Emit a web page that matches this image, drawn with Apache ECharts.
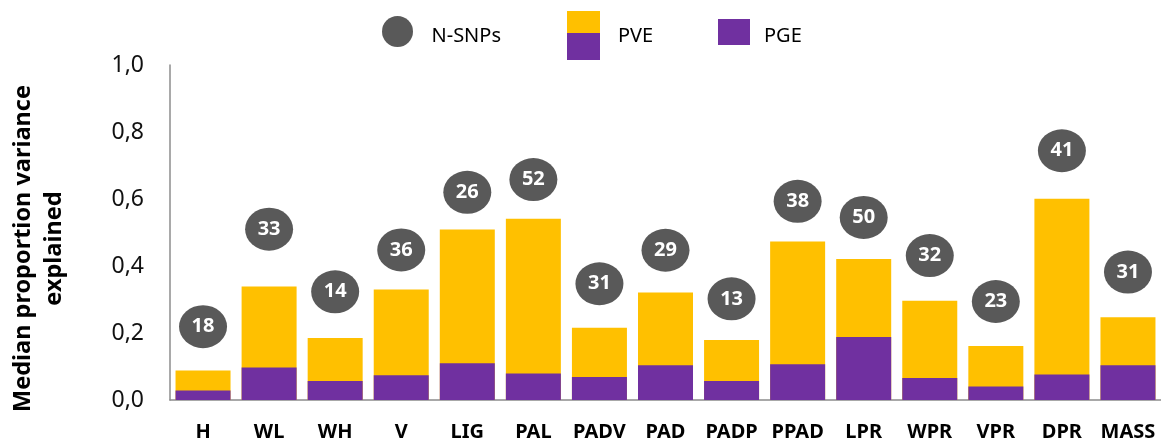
<!DOCTYPE html>
<html>
<head>
	<meta charset="UTF-8">
	<title></title>
	<script src="https://cdn.jsdelivr.net/npm/echarts@6/dist/echarts.min.js"></script>
	<style>
		html, body { margin: 0; padding: 0; background: #fff; }
	</style>
</head>
<body>
	<div id="main" style="width: 1161px;height:442px;"></div>
	<script type="text/javascript">
		var traits = ['H', 'WL', 'WH', 'V', 'LIG', 'PAL', 'PADV', 'PAD', 'PADP', 'PPAD', 'LPR', 'WPR', 'VPR', 'DPR', 'MASS'];
		var pve = [0.088, 0.339, 0.185, 0.330, 0.509, 0.541, 0.216, 0.321, 0.179, 0.473, 0.421, 0.296, 0.161, 0.601, 0.247];
		var pge = [0.028, 0.097, 0.057, 0.074, 0.110, 0.079, 0.069, 0.104, 0.057, 0.107, 0.188, 0.066, 0.040, 0.076, 0.104];
		var nSnps = [18, 33, 14, 36, 26, 52, 31, 29, 13, 38, 50, 32, 23, 41, 31];
		// height of the circles on the y axis
		var snpPos = [0.219, 0.510, 0.323, 0.448, 0.620, 0.658, 0.347, 0.447, 0.302, 0.593, 0.545, 0.431, 0.294, 0.744, 0.382];

		var yellow = '#FFC000', purple = '#7030A0', grey = '#595959';
		var font = '"Noto Sans", sans-serif';

		var myChart = echarts.init(document.getElementById('main'));

		// legend text, nudged by rich padding
		function legendText(padTop, padLeft) {
			return {
				fontFamily: font, fontSize: 20, color: '#000',
				rich: { t: { fontFamily: font, fontSize: 20, color: '#000', padding: [padTop, 0, 0, padLeft] } }
			};
		}

		myChart.setOption({
			backgroundColor: '#fff',
			animation: false,
			legend: [{
				left: 382,
				top: 16,
				padding: 0,
				itemWidth: 34,
				itemHeight: 31,
				symbolKeepAspect: false,
				data: ['N-SNPs'],
				formatter: '{t|{name}}',
				textStyle: legendText(9, 12)
			}, {
				left: 567,
				top: 11,
				padding: 0,
				itemWidth: 33,
				itemHeight: 49,
				data: [{
					name: 'PVE',
					icon: 'rect',
					itemStyle: {
						color: new echarts.graphic.LinearGradient(0, 0, 0, 1, [
							{ offset: 0, color: yellow },
							{ offset: 0.45, color: yellow },
							{ offset: 0.45, color: purple },
							{ offset: 1, color: purple }
						])
					}
				}],
				formatter: '{t|{name}}',
				textStyle: legendText(1, 13)
			}, {
				left: 718,
				top: 19,
				padding: 0,
				itemWidth: 32,
				itemHeight: 26,
				data: [{ name: 'PGE', icon: 'rect' }],
				formatter: '{t|{name}}',
				textStyle: legendText(8, 9)
			}],
			grid: {
				left: 169,
				top: 65,
				width: 994,
				height: 336
			},
			xAxis: {
				type: 'category',
				data: traits,
				axisLine: { lineStyle: { color: '#8c8c8c', width: 1.5 } },
				axisTick: { show: false },
				axisLabel: {
					interval: 0,
					margin: 22,
					fontFamily: font,
					fontWeight: 'bold',
					fontSize: 20,
					color: '#000'
				}
			},
			yAxis: {
				type: 'value',
				min: 0,
				max: 1,
				interval: 0.2,
				name: 'Median proportion variance\nexplained',
				nameLocation: 'middle',
				nameRotate: 90,
				nameGap: 100,
				nameTextStyle: {
					fontFamily: font,
					fontWeight: 'bold',
					fontSize: 23.5,
					lineHeight: 31,
					color: '#000',
					padding: [0, 32, 0, 0]
				},
				axisLine: { show: true, lineStyle: { color: '#8c8c8c', width: 1.5 } },
				axisTick: { show: false },
				splitLine: { show: false },
				axisLabel: {
					margin: 26,
					fontFamily: font,
					fontSize: 23,
					color: '#111',
					formatter: function (v) { return v.toFixed(1).replace('.', ','); }
				}
			},
			series: [{
				name: 'PVE',
				type: 'bar',
				data: pve,
				barWidth: 55,
				itemStyle: { color: yellow }
			}, {
				name: 'PGE',
				type: 'bar',
				data: pge,
				barWidth: 55,
				barGap: '-100%',
				itemStyle: { color: purple }
			}, {
				name: 'N-SNPs',
				type: 'scatter',
				data: snpPos,
				symbol: 'circle',
				symbolSize: [48, 43],
				itemStyle: { color: grey, opacity: 1 },
				label: {
					show: true,
					position: 'inside',
					fontFamily: font,
					fontWeight: 'bold',
					fontSize: 20,
					color: '#fff',
					formatter: function (p) { return nSnps[p.dataIndex]; }
				},
				z: 5
			}]
		});
	</script>
</body>
</html>
